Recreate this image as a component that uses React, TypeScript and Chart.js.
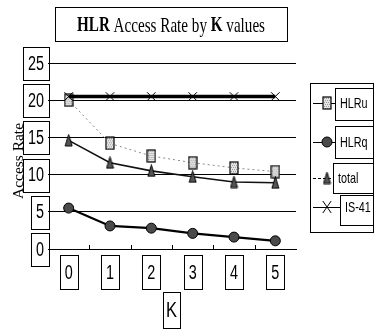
import React, { useEffect, useRef } from 'react';
import { Chart, registerables } from 'chart.js';

Chart.register(...registerables);

// ---- data ----
const kValues = ['0', '1', '2', '3', '4', '5'];
const hlruValues = [20, 14.2, 12.5, 11.6, 10.9, 10.4];
const hlrqValues = [5.5, 3.1, 2.8, 2.1, 1.6, 1.1];
const totalValues = [14.6, 11.6, 10.5, 9.7, 9.0, 8.9];
const is41Values = [20.5, 20.5, 20.5, 20.5, 20.5, 20.5];
const seriesNames = ['HLRu', 'HLRq', 'total', 'IS-41'];
const yMin = 0;
const yMax = 25;
const yStep = 5;
const titleParts = [
  { t: 'HLR', bold: true },
  { t: ' Access Rate by ', bold: false },
  { t: 'K', bold: true },
  { t: ' values', bold: false },
];
const yTitle = 'Access Rate';
const xTitle = 'K';

const SANS = "'Liberation Sans', Arial, sans-serif";
const SERIF = "'Liberation Serif', 'DejaVu Serif', serif";
const CONDENSE = 0.72;

function makeBoxMarker(): HTMLCanvasElement {
  const c = document.createElement('canvas');
  c.width = 10; c.height = 14;
  const g = c.getContext('2d')!;
  g.fillStyle = '#e6e6e6';
  g.fillRect(1, 1, 8, 12);
  g.fillStyle = '#9a9a9a';
  for (let y = 2; y < 13; y += 2) for (let x = 2 + (y % 4 === 0 ? 1 : 0); x < 9; x += 2) g.fillRect(x, y, 1, 1);
  g.strokeStyle = '#000';
  g.lineWidth = 1.2;
  g.strokeRect(1, 1, 8, 12);
  return c;
}

function makeTriMarker(): HTMLCanvasElement {
  const c = document.createElement('canvas');
  c.width = 9; c.height = 13;
  const g = c.getContext('2d')!;
  g.beginPath();
  g.moveTo(4.5, 0.5);
  g.lineTo(8, 12);
  g.lineTo(1, 12);
  g.closePath();
  g.fillStyle = '#555';
  g.fill();
  g.strokeStyle = '#000';
  g.lineWidth = 1;
  g.stroke();
  return c;
}

function drawMarker(ctx: CanvasRenderingContext2D, ds: any, x: number, y: number) {
  const ps = ds.pointStyle;
  if (ps instanceof HTMLCanvasElement) {
    ctx.drawImage(ps, x - ps.width / 2, y - ps.height / 2);
  } else if (ps === 'circle') {
    ctx.beginPath();
    ctx.arc(x, y, ds.pointRadius, 0, Math.PI * 2);
    ctx.fillStyle = ds.pointBackgroundColor;
    ctx.fill();
    ctx.strokeStyle = '#000';
    ctx.lineWidth = 1;
    ctx.stroke();
  } else if (ps === 'crossRot') {
    const r = ds.pointRadius;
    ctx.beginPath();
    ctx.moveTo(x - r * 0.7, y - r); ctx.lineTo(x + r * 0.7, y + r);
    ctx.moveTo(x + r * 0.7, y - r); ctx.lineTo(x - r * 0.7, y + r);
    ctx.strokeStyle = '#000';
    ctx.lineWidth = 1;
    ctx.stroke();
  }
}

// draws horizontally condensed text; returns drawn width
function condText(ctx: CanvasRenderingContext2D, text: string, x: number, y: number, font: string, sx: number, align: 'left' | 'center' | 'right') {
  ctx.save();
  ctx.font = font;
  const w = ctx.measureText(text).width * sx;
  let left = x;
  if (align === 'center') left = x - w / 2;
  else if (align === 'right') left = x - w;
  ctx.translate(left, y);
  ctx.scale(sx, 1);
  ctx.textAlign = 'left';
  ctx.textBaseline = 'middle';
  ctx.fillStyle = '#000';
  ctx.fillText(text, 0, 0);
  ctx.restore();
  return w;
}

const decoPlugin = {
  id: 'deco',
  afterDraw(chart: any) {
    const ctx: CanvasRenderingContext2D = chart.ctx;
    const ca = chart.chartArea;
    const xs = chart.scales.x;
    const ys = chart.scales.y;
    ctx.save();
    ctx.strokeStyle = '#000';
    ctx.fillStyle = '#000';
    ctx.lineWidth = 1;

    // title box + condensed title text
    ctx.strokeRect(55.5, 7.5, 232, 34);
    let total = 0;
    const widths: number[] = [];
    titleParts.forEach((p) => {
      ctx.font = `${p.bold ? 'bold ' : ''}21px ${SERIF}`;
      const w = ctx.measureText(p.t).width;
      widths.push(w);
      total += w;
    });
    const targetW = 188;
    ctx.save();
    ctx.translate(171 - targetW / 2, 26);
    ctx.scale(targetW / total, 1);
    ctx.textBaseline = 'middle';
    ctx.textAlign = 'left';
    let cx = 0;
    titleParts.forEach((p, i) => {
      ctx.font = `${p.bold ? 'bold ' : ''}21px ${SERIF}`;
      ctx.fillText(p.t, cx, 0);
      cx += widths[i];
    });
    ctx.restore();

    // y tick labels (condensed) + boxes
    const tickFont = `20px ${SANS}`;
    ys.ticks.forEach((t: any, i: number) => {
      const py = ys.getPixelForTick(i);
      const label = String(t.label);
      const textRight = ca.left - 4;
      const w = condText(ctx, label, textRight, py + 1, tickFont, CONDENSE, 'right');
      const right = ca.left + 1;
      const left = textRight - w - 5;
      ctx.strokeRect(Math.round(left) + 0.5, Math.round(py - 16) + 0.5, Math.round(right - left), 33);
    });

    // x tick labels + boxes
    xs.ticks.forEach((t: any, i: number) => {
      const px = xs.getPixelForTick(i);
      const label = String(t.label);
      const w = condText(ctx, label, px, 273, tickFont, CONDENSE, 'center');
      const bw = w + 10;
      ctx.strokeRect(Math.round(px - bw / 2) + 0.5, 255.5, Math.round(bw), 34);
    });

    // small tick marks at category boundaries
    ctx.beginPath();
    for (let i = 1; i < kValues.length; i++) {
      const bx = Math.round((xs.getPixelForTick(i - 1) + xs.getPixelForTick(i)) / 2) + 0.5;
      ctx.moveTo(bx, ca.bottom);
      ctx.lineTo(bx, ca.bottom - 4);
    }
    ctx.stroke();

    // x title in box
    const kx = (ca.left + ca.right) / 2 - 0.5;
    const kw = condText(ctx, xTitle, kx, 311, `22px ${SANS}`, 0.75, 'center') + 6;
    ctx.strokeRect(Math.round(kx - kw / 2) + 0.5, 292.5, Math.round(kw), 36);

    // y title rotated, condensed
    ctx.save();
    ctx.translate(19, 161);
    ctx.rotate(-Math.PI / 2);
    ctx.font = `15px ${SERIF}`;
    const yw = ctx.measureText(yTitle).width;
    ctx.scale(76 / yw, 1);
    ctx.textAlign = 'center';
    ctx.textBaseline = 'middle';
    ctx.fillStyle = '#000';
    ctx.fillText(yTitle, 0, 0);
    ctx.restore();

    // legend
    ctx.strokeRect(310.5, 83.5, 63, 149);
    const itemY = [103, 142, 178, 207];
    const boxes = [
      { x: 335, y: 88, h: 32 },
      { x: 335, y: 126, h: 32 },
      { x: 333, y: 163, h: 30 },
      { x: 340, y: 195, h: 30 },
    ];
    [0, 1, 2, 3].forEach((di, k) => {
      const ds = chart.data.datasets[di];
      const y = itemY[k];
      const b = boxes[k];
      ctx.strokeStyle = '#000';
      ctx.lineWidth = 1;
      ctx.setLineDash(di === 2 ? [3, 2] : []);
      ctx.beginPath();
      ctx.moveTo(313, y + 0.5);
      ctx.lineTo(b.x, y + 0.5);
      ctx.stroke();
      ctx.setLineDash([]);
      ctx.strokeRect(b.x + 0.5, b.y + 0.5, 60, b.h);
      drawMarker(ctx, ds, 327, y);
      condText(ctx, ds.label, b.x + 5, y + 1, `15px ${SANS}`, 0.72, 'left');
    });

    ctx.restore();
  },
};

export default function App() {
  const ref = useRef<HTMLCanvasElement | null>(null);
  useEffect(() => {
    if (!ref.current) return;
    const boxMarker = makeBoxMarker();
    const triMarker = makeTriMarker();
    const chart = new Chart(ref.current, {
      type: 'line',
      data: {
        labels: kValues,
        datasets: [
          {
            label: seriesNames[0],
            data: hlruValues,
            borderColor: '#8a8a8a',
            borderWidth: 1,
            borderDash: [2, 3],
            pointStyle: boxMarker as any,
            pointRadius: 6,
            pointBackgroundColor: '#ddd',
            pointBorderColor: '#000',
            order: 4,
          },
          {
            label: seriesNames[1],
            data: hlrqValues,
            borderColor: '#000',
            borderWidth: 2.2,
            pointStyle: 'circle',
            pointRadius: 5,
            pointBackgroundColor: '#4a4a4a',
            pointBorderColor: '#000',
            pointBorderWidth: 1,
            order: 2,
          },
          {
            label: seriesNames[2],
            data: totalValues,
            borderColor: '#111',
            borderWidth: 1.6,
            pointStyle: triMarker as any,
            pointRadius: 6,
            pointBackgroundColor: '#555',
            pointBorderColor: '#000',
            order: 3,
          },
          {
            label: seriesNames[3],
            data: is41Values,
            borderColor: '#000',
            borderWidth: 3.5,
            pointStyle: 'crossRot',
            pointRadius: 6,
            pointBorderColor: '#000',
            pointBorderWidth: 1,
            order: 1,
          },
        ],
      },
      options: {
        responsive: false,
        animation: false,
        events: [],
        layout: { padding: { left: 8, right: 78, top: 63, bottom: 0 } },
        plugins: {
          legend: { display: false },
          title: { display: false },
          tooltip: { enabled: false },
        },
        elements: { line: { tension: 0 } },
        scales: {
          x: {
            type: 'category',
            offset: true,
            grid: { display: false, drawTicks: false },
            border: { display: true, color: '#000', width: 1 },
            ticks: { display: false },
            afterFit: (s: any) => { s.height = 80; },
          },
          y: {
            min: yMin,
            max: yMax,
            grid: { color: '#000', lineWidth: 1, drawTicks: false },
            border: { display: false },
            ticks: { stepSize: yStep, display: false },
            afterFit: (s: any) => { s.width = 40; },
          },
        },
      },
      plugins: [decoPlugin],
    } as any);
    return () => chart.destroy();
  }, []);
  return (
    <div style={{ position: 'absolute', left: 0, top: 0, width: 374, height: 329, background: '#fff' }}>
      <canvas ref={ref} width={374} height={329} style={{ display: 'block' }} />
    </div>
  );
}
